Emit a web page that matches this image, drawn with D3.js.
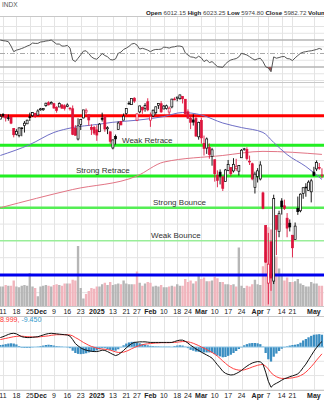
<!DOCTYPE html>
<html>
<head>
<meta charset="utf-8">
<script src="https://cdn.jsdelivr.net/npm/d3@7"></script>
<style>
  html, body { margin: 0; padding: 0; background: #fff; }
  svg { display: block; font-family: "Liberation Sans", Arial, sans-serif; }
</style>
</head>
<body>
<svg id="chart" width="324" height="400"></svg>
<script>
// ---- Daily data, S&P 500 ($SPX), Nov 8 2024 – May 6 2025 ----
const dates = [
  "2024-11-08","2024-11-11","2024-11-12","2024-11-13","2024-11-14","2024-11-15",
  "2024-11-18","2024-11-19","2024-11-20","2024-11-21","2024-11-22",
  "2024-11-25","2024-11-26","2024-11-27","2024-11-29",
  "2024-12-02","2024-12-03","2024-12-04","2024-12-05","2024-12-06",
  "2024-12-09","2024-12-10","2024-12-11","2024-12-12","2024-12-13",
  "2024-12-16","2024-12-17","2024-12-18","2024-12-19","2024-12-20",
  "2024-12-23","2024-12-24","2024-12-26","2024-12-27",
  "2024-12-30","2024-12-31","2025-01-02","2025-01-03",
  "2025-01-06","2025-01-07","2025-01-08","2025-01-10",
  "2025-01-13","2025-01-14","2025-01-15","2025-01-16","2025-01-17",
  "2025-01-21","2025-01-22","2025-01-23","2025-01-24",
  "2025-01-27","2025-01-28","2025-01-29","2025-01-30","2025-01-31",
  "2025-02-03","2025-02-04","2025-02-05","2025-02-06","2025-02-07",
  "2025-02-10","2025-02-11","2025-02-12","2025-02-13","2025-02-14",
  "2025-02-18","2025-02-19","2025-02-20","2025-02-21",
  "2025-02-24","2025-02-25","2025-02-26","2025-02-27","2025-02-28",
  "2025-03-03","2025-03-04","2025-03-05","2025-03-06","2025-03-07",
  "2025-03-10","2025-03-11","2025-03-12","2025-03-13","2025-03-14",
  "2025-03-17","2025-03-18","2025-03-19","2025-03-20","2025-03-21",
  "2025-03-24","2025-03-25","2025-03-26","2025-03-27","2025-03-28",
  "2025-03-31","2025-04-01","2025-04-02","2025-04-03","2025-04-04",
  "2025-04-07","2025-04-08","2025-04-09","2025-04-10","2025-04-11",
  "2025-04-14","2025-04-15","2025-04-16","2025-04-17",
  "2025-04-21","2025-04-22","2025-04-23","2025-04-24","2025-04-25",
  "2025-04-28","2025-04-29","2025-04-30","2025-05-01","2025-05-02",
  "2025-05-05","2025-05-06"
];

const opens = [
  5976.8,6008.9,6003.6,5985.8,5989.6,5912.8,
  5874.2,5864.1,5914.4,5932.3,5944.4,
  5992.3,6000.0,6014.1,6004.0,
  6040.1,6041.0,6069.4,6089.8,6081.4,
  6083.0,6057.6,6060.2,6074.3,6068.2,
  6063.8,6052.6,6047.7,5912.7,5842.0,
  5940.2,5984.7,6025.0,6006.2,
  5920.7,5919.7,5903.3,5891.1,
  5982.8,5993.3,5910.7,5890.7,
  5782.4,5859.2,5905.2,5961.2,5969.3,
  6014.1,6081.4,6076.3,6121.4,
  5969.0,6026.0,6057.7,6050.8,6096.8,
  5969.7,5998.1,6020.5,6072.2,6083.1,
  6046.4,6049.3,6025.1,6060.6,6115.5,
  6121.6,6117.8,6134.5,6114.1,
  6026.7,5982.7,5970.9,5981.9,5856.7,
  5968.3,5812.0,5781.4,5785.9,5726.0,
  5705.4,5603.7,5624.8,5594.4,5563.9,
  5635.6,5654.5,5632.4,5646.9,5630.7,
  5718.1,5775.9,5771.7,5695.6,5679.0,
  5527.9,5597.5,5580.8,5492.7,5292.1,
  4953.8,5193.6,4965.3,5353.2,5255.6,
  5442.0,5412.0,5335.8,5305.5,
  5232.9,5207.7,5395.9,5381.4,5489.7,
  5529.2,5508.9,5499.4,5625.1,5645.4,
  5655.3,5605.9
];

const highs = [
  6012.5,6017.3,6009.9,6008.2,5993.9,5915.3,
  5908.1,5920.0,5920.1,5963.1,5972.9,
  6020.8,6025.4,6020.2,6044.2,
  6053.6,6052.4,6089.8,6100.0,6099.9,
  6088.5,6065.4,6092.6,6079.7,6078.6,
  6085.2,6057.7,6070.7,5935.5,5982.1,
  5978.3,6040.1,6049.8,6006.2,
  5940.8,5929.7,5935.1,5949.3,
  6021.0,6000.7,5927.9,5890.7,
  5838.3,5871.9,5960.6,5964.7,6015.0,
  6051.5,6100.8,6118.7,6128.2,
  6017.2,6069.1,6062.8,6086.6,6120.9,
  6022.1,6042.5,6062.9,6084.0,6101.3,
  6073.4,6076.3,6063.6,6116.9,6127.5,
  6129.6,6147.4,6134.5,6114.8,
  6043.7,5992.7,6009.8,5993.7,5959.4,
  5986.1,5865.1,5852.1,5812.1,5783.0,
  5705.4,5636.3,5642.2,5597.8,5645.3,
  5703.5,5654.5,5715.3,5711.2,5670.8,
  5775.1,5783.0,5787.0,5732.3,5685.9,
  5627.6,5650.6,5695.3,5500.4,5292.1,
  5246.6,5267.5,5481.3,5353.2,5381.5,
  5459.5,5450.4,5367.2,5328.3,
  5232.9,5309.6,5469.7,5489.4,5528.1,
  5553.7,5572.0,5581.8,5658.9,5700.7,
  5683.8,5649.1
];

const lows = [
  5976.8,5986.7,5960.1,5965.9,5942.3,5853.0,
  5865.9,5853.2,5860.6,5885.3,5944.4,
  5963.9,5992.3,5984.9,6004.0,
  6035.3,6033.4,6061.1,6070.8,6080.0,
  6048.6,6020.8,6060.2,6051.3,6035.8,
  6059.1,6035.2,5867.8,5866.1,5832.3,
  5902.6,5981.4,6007.4,5933.0,
  5869.2,5868.9,5829.5,5888.7,
  5960.0,5890.7,5874.8,5809.4,
  5773.3,5805.4,5905.2,5934.9,5969.3,
  6006.9,6076.1,6074.7,6088.7,
  5962.9,6016.2,6013.0,6027.5,6030.9,
  5923.9,5990.9,6007.1,6046.8,6020.0,
  6044.8,6042.3,6003.0,6051.0,6107.6,
  6099.5,6111.2,6084.6,6008.6,
  5977.8,5908.5,5932.7,5858.8,5837.7,
  5810.9,5732.6,5743.3,5711.6,5666.3,
  5564.0,5528.4,5546.1,5504.7,5563.9,
  5631.1,5597.8,5622.2,5632.6,5603.1,
  5718.1,5764.4,5701.2,5670.9,5572.4,
  5488.7,5558.5,5571.5,5390.8,5069.9,
  4835.0,4910.4,4948.4,5115.3,5220.8,
  5358.0,5386.4,5220.8,5255.6,
  5101.6,5207.7,5356.1,5372.0,5455.9,
  5468.6,5505.7,5433.2,5597.4,5631.5,
  5640.1,5586.0
];

const closes = [
  5995.5,6001.4,5984.0,5985.4,5949.2,5870.6,
  5893.6,5917.0,5917.1,5948.7,5969.3,
  5987.4,6021.6,5998.7,6032.4,
  6047.2,6049.9,6086.5,6075.1,6090.3,
  6052.9,6034.9,6084.2,6051.3,6051.1,
  6074.1,6050.6,5872.2,5867.1,5930.9,
  5974.1,6040.0,6037.6,5970.8,
  5906.9,5881.6,5868.6,5942.5,
  5975.4,5909.0,5918.3,5827.0,
  5836.2,5842.9,5949.9,5937.3,5996.7,
  6049.2,6086.4,6118.7,6101.2,
  6012.3,6067.7,6039.3,6071.2,6040.5,
  5994.6,6037.9,6061.5,6083.6,6026.0,
  6066.4,6068.5,6052.0,6115.1,6114.6,
  6129.6,6144.2,6117.5,6013.1,
  5983.3,5955.3,5956.1,5861.6,5954.5,
  5849.7,5778.2,5842.6,5738.5,5770.2,
  5614.6,5572.1,5599.3,5521.5,5638.9,
  5675.1,5614.7,5675.3,5662.9,5667.6,
  5767.6,5776.7,5712.2,5693.3,5580.9,
  5611.9,5633.1,5671.0,5396.5,5074.1,
  5062.3,4982.8,5456.9,5268.1,5363.4,
  5406.0,5396.6,5275.7,5282.7,
  5158.2,5287.8,5375.9,5484.8,5525.2,
  5528.8,5560.8,5569.1,5604.1,5686.7,
  5650.4,5606.9
];

// volume, billions of shares
const volumes = [
  2.6,2.6,2.8,2.7,2.7,3.4,
  2.6,2.5,2.7,2.8,2.7,
  4.4,2.6,2.4,1.3,
  2.6,2.7,2.8,2.7,2.6,
  2.8,2.9,2.8,2.7,3.0,
  3.0,3.0,3.5,3.4,8.0,
  2.4,1.0,1.6,2.0,
  2.4,2.3,2.6,2.6,
  2.9,3.1,2.8,3.2,
  2.8,2.9,3.0,2.9,3.4,
  3.0,2.9,2.9,2.9,
  4.6,3.1,2.7,3.0,3.2,
  3.1,2.6,2.7,2.6,2.8,
  2.5,2.5,2.6,2.7,2.6,
  2.9,2.7,2.7,3.6,
  3.2,3.4,3.0,3.3,4.0,
  3.6,3.8,3.3,3.3,3.4,
  3.9,3.7,3.2,3.2,2.9,
  2.9,2.8,2.9,2.6,7.8,
  2.7,2.4,2.7,2.6,2.9,
  3.5,2.9,2.8,5.3,7.2,
  10.5,7.8,8.8,6.6,5.0,
  4.0,3.4,3.8,3.2,
  3.2,3.3,3.6,3.0,2.8,
  2.6,2.6,3.2,3.0,3.0,
  2.7,2.7
];

// RSI(14)
const rsi = [
  70,69,68.5,67.5,61,52.7,55,56,57.5,59,61,
  62.5,65.5,65,65,67,67.5,68.5,69,70,67,
  64,64,61,61,62,58,40.5,38,43,48,
  53.5,54,50,45,42.5,41.5,45.5,50,47,45.3,
  41,40.4,42,50.3,52,56,58,60.5,64,65,
  62.5,56.5,57.7,56.5,55,52.7,55,56,56,56.5,
  59.5,59,58,59.5,60,61,61,60,51,47.8,
  45,44.5,43,46,43.5,38,40.5,36.5,38,34.5,
  30.5,30,29.6,34.5,38,40.4,41.5,42.5,45,50.3,
  49,47.8,45.3,42.5,40.4,42,43,38,30.4,28.5,
  23,45,43,44,45.3,45.5,42.5,42,39.5,43.5,
  47,50.3,52,52.7,53.5,54,55,56,57.5,56
];

// MACD(12,26,9): line, signal, histogram
const macd = [
  33,36,40,44,47,48,46,41,36,34,33,
  33,34,35,36,39,42,45,47,48,47,
  46,45,44,43,42,38,26,12,4,-3,
  -8,-11,-13,-15,-16,-16,-14,-11,-12,-16,
  -21,-26,-30,-27,-20,-12,-3,5,12,16,
  17,18,18,18,17,16,16,16,16,16,
  16,16,16,16,19,22,24,24,20,14,
  6,0,-7,-12,-18,-23,-28,-33,-39,-50,
  -62,-73,-85,-92,-96,-98,-97,-93,-88,-82,
  -74,-67,-61,-56,-53,-51,-52,-60,-88,-120,
  -141,-132,-127,-122,-116,-111,-108,-104,-101,-98,
  -94,-85,-72,-60,-45,-30,-15,-2,10,19
];
const signal = [
  26,28,30,32,34,36,37,38,38,37,36,
  36,35,35,35,36,37,38,39,41,42,
  43,43,43,43,43,42,39,33,28,22,
  16,11,6,2,-1,-4,-6,-7,-8,-9,
  -11,-14,-17,-19,-19,-18,-15,-11,-6,-2,
  2,5,8,10,11,12,13,14,14,15,
  15,15,15,16,16,17,18,19,19,18,
  16,13,9,5,0,-4,-9,-14,-19,-25,
  -32,-40,-49,-57,-65,-71,-76,-79,-81,-81,
  -80,-77,-74,-70,-67,-64,-62,-61,-67,-77,
  -90,-98,-104,-108,-110,-110,-110,-109,-108,-106,
  -104,-100,-95,-88,-79,-69,-58,-46,-35,-24
];
const hist = [
  7,8,10,12,13,12,9,3,-2,-3,-3,
  -3,-1,0,1,3,5,7,8,7,5,
  3,2,1,0,-1,-4,-13,-21,-24,-25,
  -24,-22,-19,-17,-15,-12,-8,-4,-4,-7,
  -10,-12,-13,-8,-1,6,12,16,18,18,
  15,13,10,8,6,4,3,2,2,1,
  1,1,1,0,3,5,6,5,1,-4,
  -10,-13,-16,-17,-18,-19,-19,-19,-20,-25,
  -30,-33,-36,-35,-31,-27,-21,-14,-7,-1,
  6,10,13,14,14,13,10,1,-21,-43,
  -51,-34,-23,-14,-6,-1,2,5,7,8,
  10,15,23,28,34,39,43,44,45,43
];

// moving averages sampled along the period (date, value)
const sma50Dates = ["2024-11-08","2024-11-25","2024-12-09","2024-12-18","2025-01-02","2025-01-13","2025-01-27","2025-02-10","2025-02-20","2025-03-03","2025-03-13","2025-03-24","2025-04-03","2025-04-09","2025-04-16","2025-04-28","2025-05-06"];
const sma50Values = [5733,5805,5886,5919,5940,5955,5969,5994,6022,6005,5950,5919,5886,5819,5739,5661,5578];
const sma200Dates = ["2024-11-08","2024-12-18","2025-01-27","2025-02-10","2025-03-13","2025-04-03","2025-05-06"];
const sma200Values = [5400,5514,5600,5690,5733,5760,5740];

// horizontal levels
const levelValues = [6000, 5800, 5600, 5400, 5200, 5000];
const levelNames = ["", "Weak Retrace", "Strong Retrace", "Strong Bounce", "Weak Bounce", ""];

// date axis labels
const tickDates = ["2024-11-11","2024-11-18","2024-11-25","2024-12-02","2024-12-09","2024-12-16","2024-12-23","2025-01-02","2025-01-13","2025-01-21","2025-01-27","2025-02-03","2025-02-10","2025-02-18","2025-02-24","2025-03-03","2025-03-10","2025-03-17","2025-03-24","2025-04-01","2025-04-07","2025-04-14","2025-04-21","2025-05-01"];
const tickLabels = ["11","18","25","Dec","9","16","23","2025","13","21","27","Feb","10","18","24","Mar","10","17","24","Apr","7","14","21","May"];
const tickBold = ["Dec","2025","Feb","Mar","Apr","May"];

// header readout
const headerFields = ["Open","High","Low","Close","Volum"];
const headerValues = ["6012.15","6023.25","5974.80","5982.72",""];
const macdLegend = ["8.999,", "-9.450"];

// ---------------- drawing ----------------
const W = 324, H = 400;
const L = { rsiTop: 16, rsiBot: 82, pTop: 82, pBot: 306, axis1: 314, mTop: 316, mBot: 390, axis2: 398 };

const svg = d3.select("#chart");
const idx = new Map(dates.map((d, i) => [d, i]));
const x = d3.scaleLinear().domain([idx.get("2024-11-11"), idx.get("2025-05-01")]).range([3, 313.9]);
const step = x(1) - x(0);

const yP = d3.scaleLog().domain([5000, 6000]).range([275, 115.7]);
const yV = d3.scaleLinear().domain([0, 10]).range([L.pBot, L.pBot - 75]);
const yR = d3.scaleLinear().domain([30, 70]).range([67, 40]);
const yM = d3.scaleLinear().domain([-140, 0]).range([387, 347]);

const defs = svg.append("defs");
function clip(id, y0, y1) {
  defs.append("clipPath").attr("id", id).append("rect").attr("x", 0).attr("y", y0).attr("width", W).attr("height", y1 - y0);
  return `url(#${id})`;
}
const clipR = clip("clipR", L.rsiTop, L.rsiBot);
const clipP = clip("clipP", L.pTop, L.pBot);
const clipM = clip("clipM", L.mTop, L.mBot);

const GRID = "#e4e4e4";

// vertical grid
const gridX = tickDates.map(d => x(idx.get(d)));
[[L.rsiTop, L.rsiBot], [L.pTop, L.pBot], [L.mTop, L.mBot]].forEach(([a, b]) => {
  svg.append("g").selectAll("line").data(gridX).join("line")
    .attr("x1", d => Math.round(d) + 0.5).attr("x2", d => Math.round(d) + 0.5)
    .attr("y1", a).attr("y2", b)
    .attr("stroke", GRID).attr("stroke-width", 1);
});

// panel edges
[L.rsiTop, L.rsiBot, L.pBot, L.mTop, L.mBot].forEach(v => {
  svg.append("line").attr("x1", 0).attr("x2", W).attr("y1", v + 0.5).attr("y2", v + 0.5)
    .attr("stroke", "#c8c8c8").attr("stroke-width", 1);
});

// header
svg.append("text").attr("x", 2).attr("y", 7).attr("font-size", 6.5).attr("fill", "#555").text("INDX");
const hdr = svg.append("text").attr("x", 146).attr("y", 14.5).attr("font-size", 6.2).attr("fill", "#222");
headerFields.forEach((f, i) => {
  hdr.append("tspan").attr("font-weight", "bold").text(f);
  if (headerValues[i]) hdr.append("tspan").attr("fill", "#444").text(" " + headerValues[i] + " ");
});

// ---- RSI panel ----
const gR = svg.append("g").attr("clip-path", clipR);
[10, 20, 40, 60, 80, 90].forEach(v => {
  gR.append("line").attr("x1", 0).attr("x2", W).attr("y1", yR(v)).attr("y2", yR(v)).attr("stroke", GRID);
});
gR.append("line").attr("x1", 0).attr("x2", W).attr("y1", yR(70)).attr("y2", yR(70)).attr("stroke", "#b4b4b4").attr("stroke-width", 1.5);
gR.append("line").attr("x1", 0).attr("x2", W).attr("y1", yR(30)).attr("y2", yR(30)).attr("stroke", "#b4b4b4").attr("stroke-width", 1.5);
gR.append("line").attr("x1", 0).attr("x2", W).attr("y1", yR(50)).attr("y2", yR(50)).attr("stroke", "#aaa").attr("stroke-width", 1).attr("stroke-dasharray", "5,2,1,2");

defs.append("clipPath").attr("id", "below30").append("rect").attr("x", 0).attr("y", yR(30)).attr("width", W).attr("height", 40);
gR.append("path").datum(rsi)
  .attr("clip-path", "url(#below30)")
  .attr("fill", "#9c5656")
  .attr("d", d3.area().x((d, i) => x(i)).y0(yR(30)).y1(d => yR(d)));
gR.append("path").datum(rsi)
  .attr("fill", "none").attr("stroke", "#555").attr("stroke-width", 1)
  .attr("d", d3.line().x((d, i) => x(i)).y(d => yR(d)));

// ---- price panel ----
const gP = svg.append("g").attr("clip-path", clipP);
[4900, 5100, 5300, 5500, 5700, 5900, 6100, 6200].forEach(v => {
  gP.append("line").attr("x1", 0).attr("x2", W).attr("y1", yP(v)).attr("y2", yP(v)).attr("stroke", GRID);
});

const upDay = i => i === 0 ? true : closes[i] >= closes[i - 1];

// volume overlay
gP.append("g").selectAll("rect").data(volumes).join("rect")
  .attr("x", (d, i) => x(i) - step / 2 + 0.15)
  .attr("width", step - 0.3)
  .attr("y", d => yV(d))
  .attr("height", d => L.pBot - yV(d))
  .attr("fill", (d, i) => upDay(i) ? "#b6b6b6" : "#f1b5bd");

// levels
const levelStyle = [
  { c: "#ff0000", w: 3 }, { c: "#22ee22", w: 3 }, { c: "#22ee22", w: 3 },
  { c: "#55ee55", w: 2.5 }, { c: "#99ee99", w: 1.5 }, { c: "#0000ee", w: 3 }
];
levelValues.forEach((v, i) => {
  gP.append("line").attr("x1", 0).attr("x2", W).attr("y1", yP(v)).attr("y2", yP(v))
    .attr("stroke", levelStyle[i].c).attr("stroke-width", levelStyle[i].w);
});

// moving averages
const maLine = d3.line().curve(d3.curveMonotoneX);
gP.append("path")
  .attr("d", maLine(sma200Dates.map((d, i) => [x(idx.get(d)), yP(sma200Values[i])])))
  .attr("fill", "none").attr("stroke", "#e27585").attr("stroke-width", 1);
gP.append("path")
  .attr("d", maLine(sma50Dates.map((d, i) => [x(idx.get(d)), yP(sma50Values[i])])))
  .attr("fill", "none").attr("stroke", "#6f6fc6").attr("stroke-width", 1);

// level labels
const labelX = { "Weak Retrace": 122, "Strong Retrace": 76, "Strong Bounce": 153, "Weak Bounce": 151 };
levelValues.forEach((v, i) => {
  if (!levelNames[i]) return;
  gP.append("text").attr("x", labelX[levelNames[i]]).attr("y", yP(v) - 2.5)
    .attr("font-size", 8).attr("fill", "#333").text(levelNames[i]);
});

// candles
const RED = "#dc143c";
const gC = gP.append("g");
dates.forEach((d, i) => {
  const cx = x(i);
  const col = upDay(i) ? "#000" : RED;
  const hollow = closes[i] > opens[i];
  gC.append("line").attr("x1", cx).attr("x2", cx)
    .attr("y1", yP(highs[i])).attr("y2", yP(lows[i]))
    .attr("stroke", col).attr("stroke-width", 0.9);
  const top = yP(Math.max(opens[i], closes[i]));
  const bot = yP(Math.min(opens[i], closes[i]));
  gC.append("rect").attr("x", cx - 1).attr("width", 2)
    .attr("y", top).attr("height", Math.max(0.8, bot - top))
    .attr("fill", hollow ? "#fff" : col)
    .attr("stroke", col).attr("stroke-width", 0.7);
});

// ---- date axes ----
function axisRow(yy) {
  const g = svg.append("g");
  g.selectAll("text").data(tickDates).join("text")
    .attr("x", d => x(idx.get(d)))
    .attr("y", yy)
    .attr("text-anchor", "middle")
    .attr("font-size", 7)
    .attr("fill", "#222")
    .attr("font-weight", (d, i) => tickBold.includes(tickLabels[i]) ? "bold" : "normal")
    .text((d, i) => tickLabels[i]);
}
axisRow(L.axis1);
axisRow(L.axis2);

// ---- MACD panel ----
const gM = svg.append("g").attr("clip-path", clipM);
[50, -50, -100, -150].forEach(v => {
  gM.append("line").attr("x1", 0).attr("x2", W).attr("y1", yM(v)).attr("y2", yM(v)).attr("stroke", GRID);
});
gM.append("g").selectAll("rect").data(hist).join("rect")
  .attr("x", (d, i) => x(i) - step / 2 + 0.2)
  .attr("width", step - 0.4)
  .attr("y", d => Math.min(yM(d), yM(0)))
  .attr("height", d => Math.abs(yM(d) - yM(0)))
  .attr("fill", "#3b8ec2");
gM.append("line").attr("x1", 0).attr("x2", W).attr("y1", yM(0)).attr("y2", yM(0)).attr("stroke", "#8cc4e4").attr("stroke-width", 1);
gM.append("path").datum(signal)
  .attr("fill", "none").attr("stroke", "#ff4040").attr("stroke-width", 1)
  .attr("d", d3.line().x((d, i) => x(i)).y(d => yM(d)));
gM.append("path").datum(macd)
  .attr("fill", "none").attr("stroke", "#111").attr("stroke-width", 1)
  .attr("d", d3.line().x((d, i) => x(i)).y(d => yM(d)));

const leg = svg.append("text").attr("x", 0).attr("y", 322).attr("font-size", 7);
leg.append("tspan").attr("fill", "#ff3333").text(macdLegend[0] + " ");
leg.append("tspan").attr("fill", "#3399cc").text(macdLegend[1]);
</script>
</body>
</html>
